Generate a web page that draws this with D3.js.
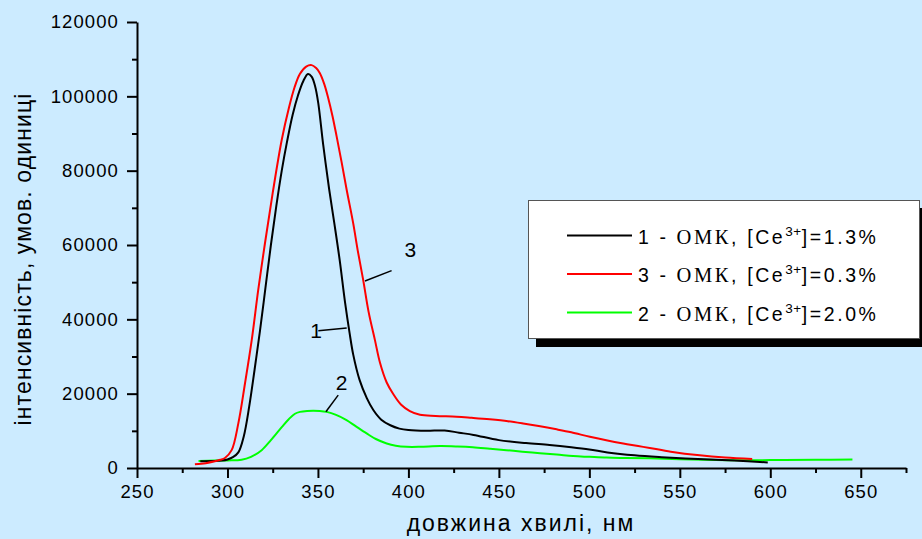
<!DOCTYPE html>
<html>
<head>
<meta charset="utf-8">
<script src="https://cdn.jsdelivr.net/npm/d3@7"></script>
<style>
  body { margin: 0; background: #ccebff; }
  svg { display: block; }
</style>
</head>
<body>
<div id="vis"></div>
<script>
// крива 1 (чорна)
const wl1 = [285, 292, 297, 300, 303, 306, 309, 312, 315, 318, 321, 324, 327, 330, 333, 336, 339, 342, 344.5,
  346.5, 348.5, 350.2, 352.9, 356.2, 359, 362, 365, 367.5, 369.5, 373, 377, 380.6, 385, 390, 395, 400, 410,
  420, 428, 436, 450, 465, 478, 490, 500, 510, 525, 540, 560, 580, 598.6];
const int1 = [1800, 1850, 2000, 2300, 2900, 4200, 8500, 16500, 26500, 37000, 48500, 60000, 70500, 80000, 88000, 95000, 100300, 104200, 106000,
  105300, 102600, 98100, 87000, 75000, 66000, 56000, 44500, 36300, 30500, 23700, 18800, 15600, 13000, 11500, 10600, 10200, 10000,
  10100, 9500, 8900, 7500, 6700, 6200, 5600, 5000, 4200, 3400, 2900, 2400, 2000, 1500];

// крива 3 (червона)
const wl3 = [282, 288, 293, 296, 298.6, 302.3, 306, 309.7, 313.4, 317, 320.7, 325, 330, 334, 337, 340, 343.5, 346.5, 349,
  351, 353.5, 355.7, 358, 360.3, 363, 365.9, 369.5, 372, 375, 378, 381.5, 384.3, 388, 391.6, 396, 400.8, 406.4,
  415, 426.6, 435, 445, 455, 463.4, 472, 481.9, 490, 500.3, 510, 518.7, 527, 533.4, 545, 561, 575, 590];
const int3 = [1000, 1300, 1800, 2200, 2700, 4800, 12000, 22800, 34400, 47900, 60400, 74000, 88300, 97000, 102300, 106000, 108000, 108400, 107600,
  106300, 103300, 99500, 94800, 89300, 82500, 74800, 65800, 58500, 50600, 42000, 34400, 28300, 23000, 19900, 17000, 15300, 14300,
  14000, 13800, 13500, 13100, 12600, 12000, 11300, 10400, 9600, 8400, 7400, 6600, 5900, 5400, 4400, 3400, 2800, 2400];

// крива 2 (зелена)
const wl2 = [284, 293, 300, 307.8, 313, 318.9, 324, 330, 334, 337.3, 340.1, 344, 347.4, 351, 354.8, 360, 365.8, 371,
  376.9, 382, 388, 393, 399, 406.4, 417.4, 427, 435.6, 445, 454.2, 463, 472.7, 482, 491, 500, 509.5, 520, 533.4,
  550, 570, 590, 607, 625, 645.4];
const int2 = [1900, 2000, 2050, 2200, 3000, 4800, 7500, 11000, 13200, 14600, 15100, 15350, 15400, 15350, 15100, 14300, 12900, 11200,
  9300, 7800, 6600, 6000, 5700, 5700, 5900, 5800, 5600, 5200, 4800, 4400, 3950, 3600, 3200, 3000, 2800, 2700, 2600,
  2350, 2150, 2100, 2150, 2200, 2300];

const xMajor = [250, 300, 350, 400, 450, 500, 550, 600, 650];
const xMinor = [275, 325, 375, 425, 475, 525, 575, 625, 675];
const yMajor = [0, 20000, 40000, 60000, 80000, 100000, 120000];
const yMinor = [10000, 30000, 50000, 70000, 90000, 110000];

const legendNums = ["1", "3", "2"];
const legendConc = ["1.3", "0.3", "2.0"];
const colors = ["#000000", "#ff0000", "#00ff00"];

// підписи-виноски: текст, позиція тексту, лінія (у даних)
const notes = [
  { label: "3", tx: 401.1, ty: 56800, x1: 376, y1: 50300, x2: 390.7, y2: 53100 },
  { label: "1", tx: 349.0, ty: 35000, x1: 350.2, y1: 36900, x2: 365.9, y2: 37700 },
  { label: "2", tx: 363.1, ty: 21000, x1: 361.2, y1: 19600, x2: 354.4, y2: 15150 }
];

const WIDTH = 922;
const HEIGHT = 539;
const margin = { top: 22, bottom: 71, left: 137, right: 16 };

const SVG = d3.select("#vis").append("svg")
  .attr("width", WIDTH)
  .attr("height", HEIGHT);

SVG.append("rect").attr("width", WIDTH).attr("height", HEIGHT).attr("fill", "#ccebff");

const escalaX = d3.scaleLinear().domain([250, 675]).range([margin.left, WIDTH - margin.right]);
const escalaY = d3.scaleLinear().domain([0, 120000]).range([HEIGHT - margin.bottom, margin.top]);

const fontSans = "Liberation Sans, Arial, sans-serif";
const fontSerif = "Liberation Serif, Times New Roman, serif";

// Ejes: мінорні поділки
SVG.append("g")
  .attr("transform", `translate(0, ${escalaY(0)})`)
  .call(d3.axisBottom(escalaX).tickValues(xMinor).tickSize(5).tickFormat(""))
  .call(g => g.select(".domain").remove())
  .selectAll("line").attr("stroke-width", 2);

SVG.append("g")
  .attr("transform", `translate(${escalaX(250)}, 0)`)
  .call(d3.axisLeft(escalaY).tickValues(yMinor).tickSize(5).tickFormat(""))
  .call(g => g.select(".domain").remove())
  .selectAll("line").attr("stroke-width", 2);

const ejeX = SVG.append("g")
  .attr("transform", `translate(0, ${escalaY(0)})`)
  .call(d3.axisBottom(escalaX).tickValues(xMajor).tickSize(10).tickSizeOuter(0).tickFormat(d3.format("d")));
ejeX.select(".domain").attr("stroke-width", 2);
ejeX.selectAll("line").attr("stroke-width", 2);
ejeX.selectAll("text")
  .attr("y", 17)
  .attr("font-family", fontSans)
  .attr("font-size", 18.5)
  .attr("letter-spacing", 1.1)
  .attr("fill", "#000");

const ejeY = SVG.append("g")
  .attr("transform", `translate(${escalaX(250)}, 0)`)
  .call(d3.axisLeft(escalaY).tickValues(yMajor).tickSize(10).tickSizeOuter(0).tickFormat(d3.format("d")));
ejeY.select(".domain").attr("stroke-width", 2);
ejeY.selectAll("line").attr("stroke-width", 2);
ejeY.selectAll("text")
  .attr("x", -18)
  .attr("font-family", fontSans)
  .attr("font-size", 18.5)
  .attr("letter-spacing", 1.1)
  .attr("fill", "#000");

// curves
const linea = d3.line()
  .x(d => escalaX(d[0]))
  .y(d => escalaY(d[1]))
  .curve(d3.curveCatmullRom.alpha(0.5));

const series = [
  { wl: wl2, v: int2, color: colors[2] },
  { wl: wl1, v: int1, color: colors[0] },
  { wl: wl3, v: int3, color: colors[1] }
];

SVG.append("g").selectAll("path")
  .data(series)
  .join("path")
  .attr("d", s => linea(s.wl.map((w, i) => [w, s.v[i]])))
  .attr("fill", "none")
  .attr("stroke", s => s.color)
  .attr("stroke-width", 2)
  .attr("stroke-linejoin", "round");

// annotations
const notasG = SVG.append("g");
notasG.selectAll("line")
  .data(notes)
  .join("line")
  .attr("x1", d => escalaX(d.x1)).attr("y1", d => escalaY(d.y1))
  .attr("x2", d => escalaX(d.x2)).attr("y2", d => escalaY(d.y2))
  .attr("stroke", "#000")
  .attr("stroke-width", 1.5);
notasG.selectAll("text")
  .data(notes)
  .join("text")
  .attr("x", d => escalaX(d.tx))
  .attr("y", d => escalaY(d.ty))
  .attr("text-anchor", "middle")
  .attr("font-family", fontSans)
  .attr("font-size", 21)
  .text(d => d.label);

// axis titles
SVG.append("text")
  .attr("x", 521)
  .attr("y", 531)
  .attr("text-anchor", "middle")
  .attr("font-family", fontSans)
  .attr("font-size", 23)
  .attr("letter-spacing", 2)
  .text("довжина хвилі, нм");

SVG.append("text")
  .attr("transform", `translate(31, ${(escalaY(0) + escalaY(120000)) / 2 + 14}) rotate(-90)`)
  .attr("text-anchor", "middle")
  .attr("font-family", fontSans)
  .attr("font-size", 23)
  .attr("letter-spacing", 1.1)
  .text("інтенсивність, умов. одиниці");

// legend
const leyenda = SVG.append("g");
leyenda.append("rect")
  .attr("x", 536).attr("y", 208).attr("width", 392).attr("height", 139)
  .attr("fill", "#000");
leyenda.append("rect")
  .attr("x", 528.5).attr("y", 200.5).attr("width", 391).attr("height", 138)
  .attr("fill", "#fff")
  .attr("stroke", "#555")
  .attr("stroke-width", 1);

const filas = leyenda.selectAll("g.fila")
  .data(legendNums)
  .join("g")
  .attr("class", "fila")
  .attr("transform", (d, i) => `translate(0, ${243.5 + i * 38.5})`);

filas.append("line")
  .attr("x1", 567).attr("x2", 632)
  .attr("y1", -8).attr("y2", -8)
  .attr("stroke", (d, i) => colors[i])
  .attr("stroke-width", 2);

const txt = filas.append("text")
  .attr("x", 638)
  .attr("y", 0)
  .attr("font-family", fontSans)
  .attr("font-size", 19.5)
  .attr("letter-spacing", 2.6)
  .attr("fill", "#000");
txt.append("tspan").text(d => d + " - ");
txt.append("tspan").attr("font-family", fontSerif).attr("font-size", 20.5).text("ОМК");
txt.append("tspan").text(", [Ce");
txt.append("tspan").attr("font-size", 13.5).attr("letter-spacing", 0.5).attr("dy", -8).text("3+");
txt.append("tspan").attr("dy", 8).text((d, i) => "]=" + legendConc[i] + "%");
</script>
</body>
</html>
